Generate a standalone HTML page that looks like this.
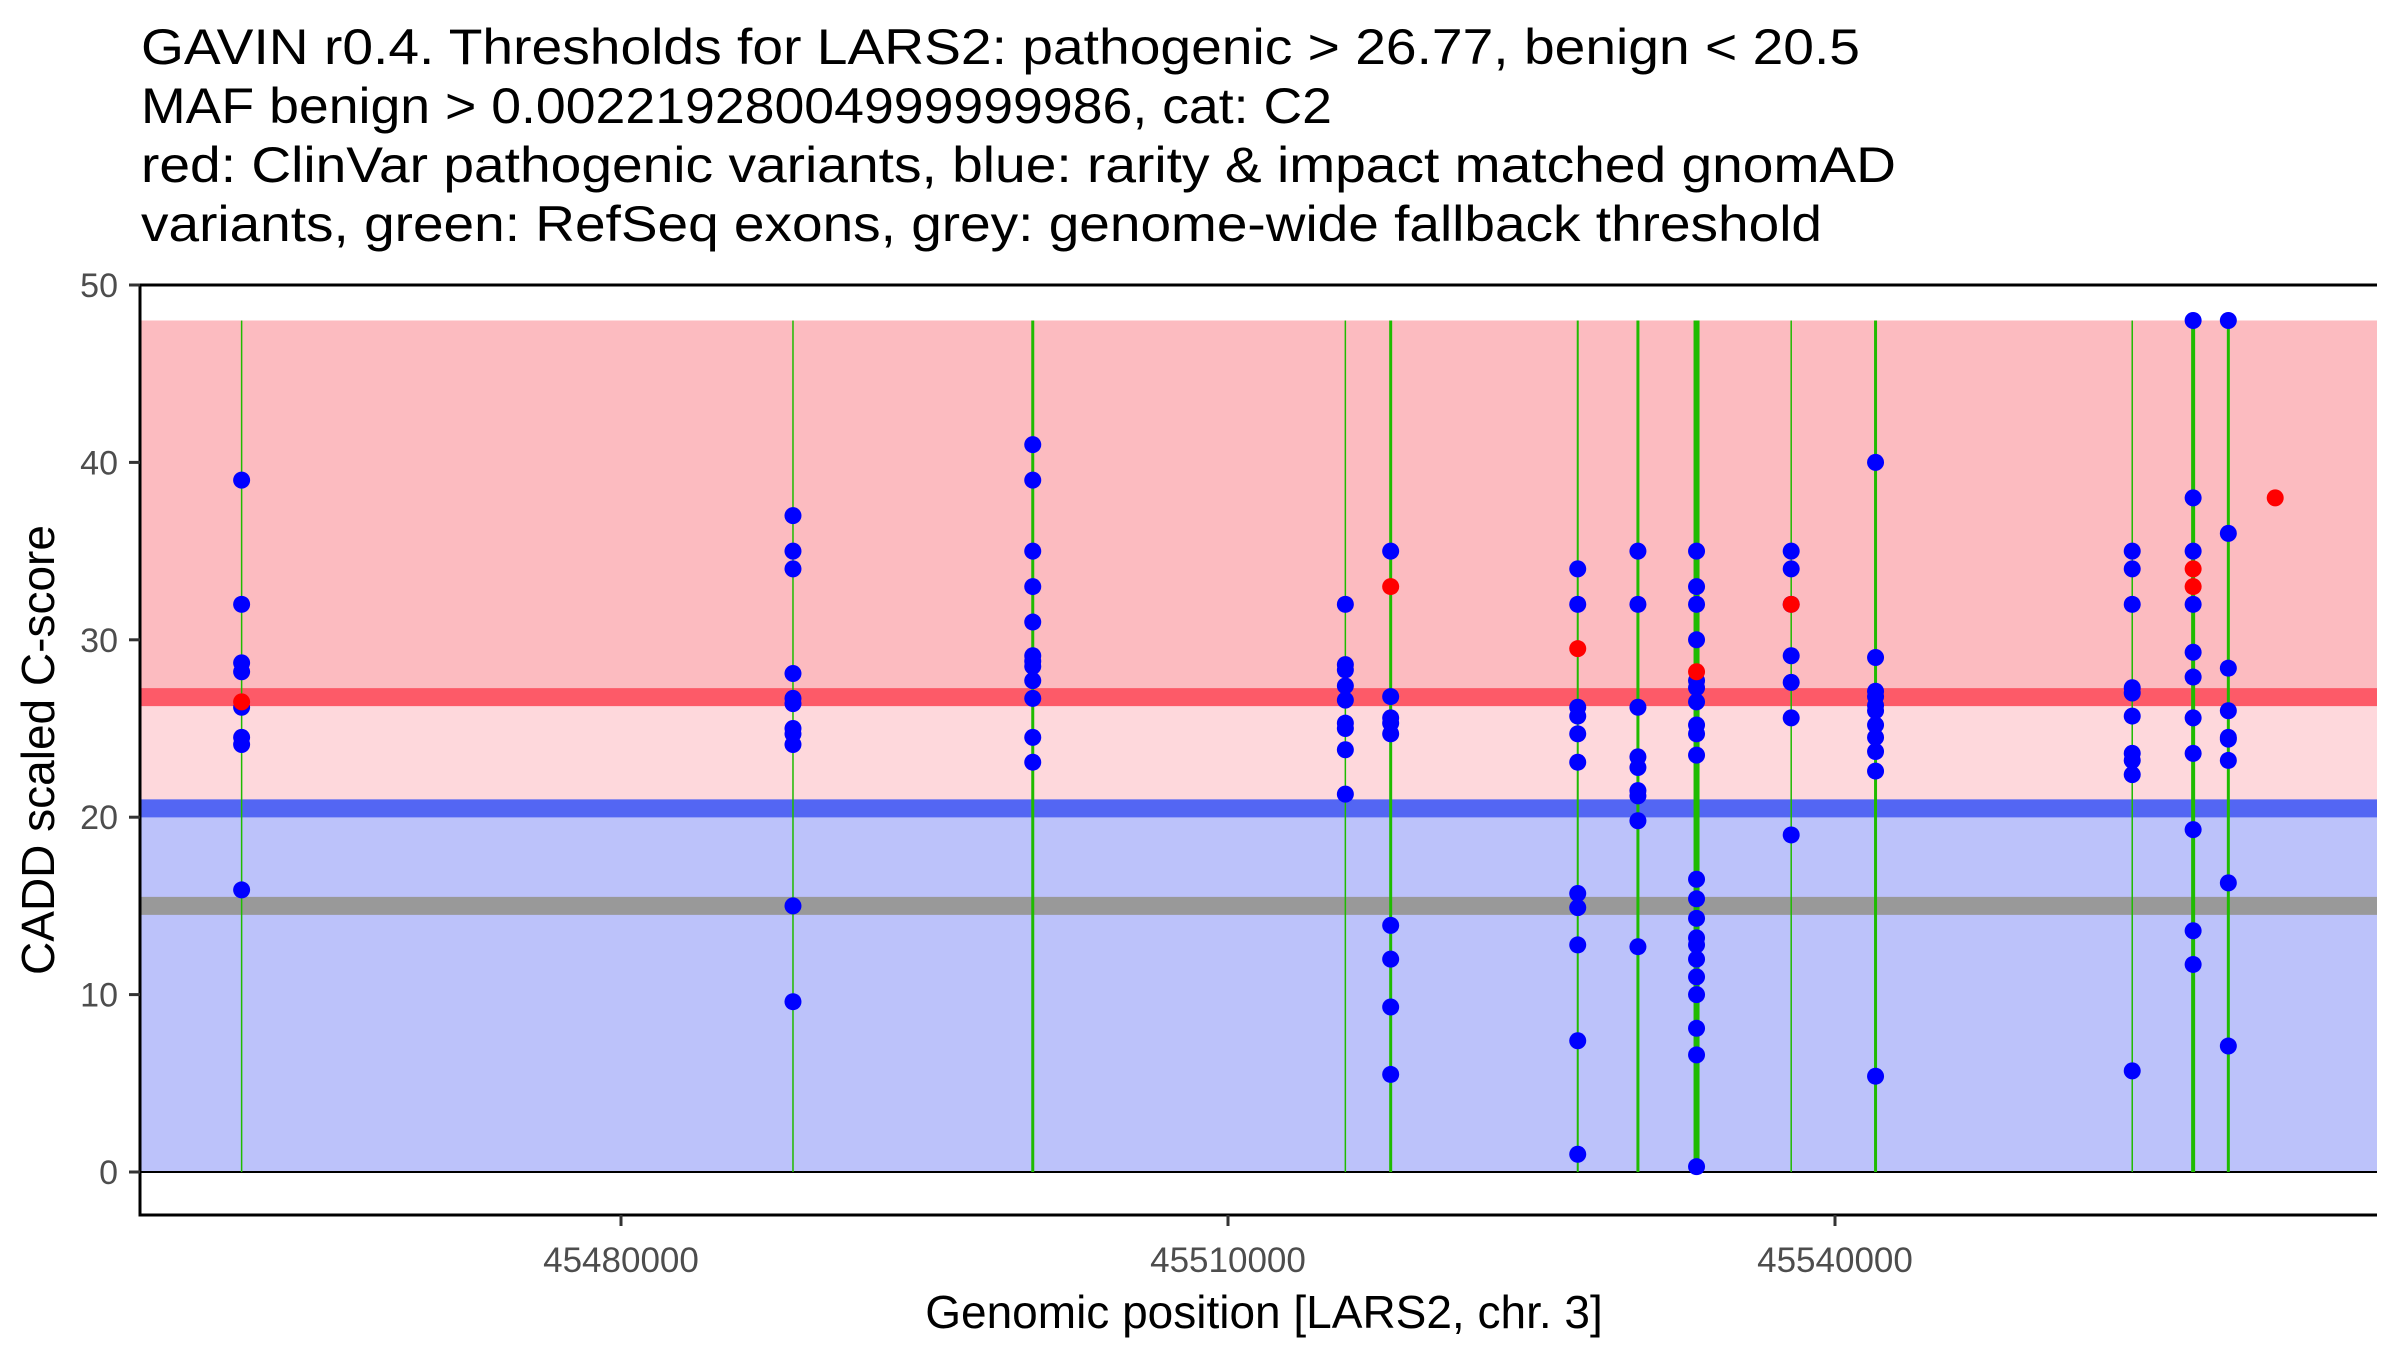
<!DOCTYPE html>
<html><head><meta charset="utf-8"><style>
html,body{margin:0;padding:0;background:#fff;}
svg{display:block;font-family:"Liberation Sans",Arial,sans-serif;}
</style></head><body>
<svg id="chart" width="2400" height="1350" viewBox="0 0 2400 1350" xmlns="http://www.w3.org/2000/svg">
<g font-size="50" fill="#000">
<text x="141" y="64" textLength="1719" lengthAdjust="spacingAndGlyphs">GAVIN r0.4. Thresholds for LARS2: pathogenic &gt; 26.77, benign &lt; 20.5</text>
<text x="141" y="123" textLength="1191" lengthAdjust="spacingAndGlyphs">MAF benign &gt; 0.00221928004999999986, cat: C2</text>
<text x="141" y="182" textLength="1755" lengthAdjust="spacingAndGlyphs">red: ClinVar pathogenic variants, blue: rarity &amp; impact matched gnomAD</text>
<text x="141" y="241" textLength="1681" lengthAdjust="spacingAndGlyphs">variants, green: RefSeq exons, grey: genome-wide fallback threshold</text>
</g>
<g id="plot"></g>
<text x="1264" y="1328" text-anchor="middle" font-size="46" fill="#000">Genomic position [LARS2, chr. 3]</text>
<text transform="translate(54,750) rotate(-90)" text-anchor="middle" font-size="46" fill="#000">CADD scaled C-score</text>
</svg>
<script>
const pathoThr = 26.77;
const benignThr = 20.5;
const fallbackThr = 15;
const yMaxData = 48;
const xTicks = [45480000, 45510000, 45540000];
const yTicks = [0, 10, 20, 30, 40, 50];
const exonPos = [45461250, 45488500, 45500350, 45515800, 45518040, 45527285, 45530260, 45533157, 45537835, 45542004, 45554690, 45557700, 45559440];
const exonWidth = [1.5, 1.5, 3, 1.5, 3, 2, 3, 6, 1.5, 3, 1.5, 4, 3];
const blueX = [
45461250,45461250,45461250,45461250,45461250,45461250,45461250,45461250,
45488500,45488500,45488500,45488500,45488500,45488500,45488500,45488500,45488500,45488500,45488500,
45500350,45500350,45500350,45500350,45500350,45500350,45500350,45500350,45500350,45500350,45500350,45500350,
45515800,45515800,45515800,45515800,45515800,45515800,45515800,45515800,45515800,
45518040,45518040,45518040,45518040,45518040,45518040,45518040,45518040,45518040,
45527285,45527285,45527285,45527285,45527285,45527285,45527285,45527285,45527285,45527285,45527285,
45530260,45530260,45530260,45530260,45530260,45530260,45530260,45530260,45530260,
45533157,45533157,45533157,45533157,45533157,45533157,45533157,45533157,45533157,45533157,45533157,45533157,45533157,45533157,45533157,45533157,45533157,45533157,45533157,45533157,45533157,
45537835,45537835,45537835,45537835,45537835,45537835,45537835,
45542004,45542004,45542004,45542004,45542004,45542004,45542004,45542004,45542004,45542004,45542004,
45554690,45554690,45554690,45554690,45554690,45554690,45554690,45554690,45554690,45554690,
45557700,45557700,45557700,45557700,45557700,45557700,45557700,45557700,45557700,45557700,45557700,
45559440,45559440,45559440,45559440,45559440,45559440,45559440,45559440,45559440
];
const blueY = [
39.0,32.0,28.7,28.2,26.2,24.5,24.1,15.9,
37.0,35.0,34.0,28.1,26.7,26.4,25.0,24.7,24.1,15.0,9.6,
41.0,39.0,35.0,33.0,31.0,29.1,28.8,28.5,27.7,26.7,24.5,23.1,
32.0,28.6,28.3,27.4,26.6,25.3,25.0,23.8,21.3,
35.0,26.8,25.6,25.3,24.7,13.9,12.0,9.3,5.5,
34.0,32.0,26.2,25.7,24.7,23.1,15.7,14.9,12.8,7.4,1.0,
35.0,32.0,26.2,23.4,22.8,21.5,21.2,19.8,12.7,
35.0,33.0,32.0,30.0,27.7,27.3,26.5,25.2,24.7,23.5,16.5,15.4,14.3,13.2,12.8,12.0,11.0,10.0,8.1,6.6,0.3,
35.0,34.0,32.0,29.1,27.6,25.6,19.0,
40.0,29.0,27.1,26.8,26.3,26.0,25.2,24.5,23.7,22.6,5.4,
35.0,34.0,32.0,27.3,27.0,25.7,23.6,23.2,22.4,5.7,
48.0,38.0,35.0,32.0,29.3,27.9,25.6,23.6,19.3,13.6,11.7,
48.0,36.0,28.4,26.0,24.5,24.4,23.2,16.3,7.1
];
const redX = [45461250, 45518040, 45527285, 45533157, 45537835, 45557700, 45557700, 45561757];
const redY = [26.5, 33.0, 29.5, 28.2, 32.0, 34.0, 33.0, 38.0];

const NS = 'http://www.w3.org/2000/svg';
const L = 140, R = 2377, T = 285, B = 1215;
const xs = v => 621 + (v - 45480000) * 607 / 30000;
const ys = v => 1172 - v * 17.74;
const plot = document.getElementById('plot');
function mk(tag, attrs) {
  const e = document.createElementNS(NS, tag);
  for (const k in attrs) e.setAttribute(k, attrs[k]);
  plot.appendChild(e);
  return e;
}
let e;
e = mk('rect', {x: L, y: ys(yMaxData), width: R - L, height: ys(pathoThr) - ys(yMaxData), fill: '#fcbbc0'});


e = mk('rect', {x: L, y: ys(pathoThr), width: R - L, height: ys(benignThr) - ys(pathoThr), fill: '#fed8dc'});


e = mk('rect', {x: L, y: ys(benignThr), width: R - L, height: ys(0) - ys(benignThr), fill: '#bcc2fa'});


e = mk('line', {x1: L, x2: R, y1: ys(pathoThr), y2: ys(pathoThr), stroke: '#fd5a68', 'stroke-width': 18});


e = mk('line', {x1: L, x2: R, y1: ys(benignThr), y2: ys(benignThr), stroke: '#5366f3', 'stroke-width': 18});


e = mk('line', {x1: L, x2: R, y1: ys(fallbackThr), y2: ys(fallbackThr), stroke: '#999999', 'stroke-width': 18});


e = mk('line', {x1: L, x2: R, y1: ys(0), y2: ys(0), stroke: '#000', 'stroke-width': 2});


exonPos.forEach((p, i) => {
  const ln = mk('line', {x1: xs(p), x2: xs(p), y1: ys(yMaxData), y2: ys(0), stroke: '#1fbb00', 'stroke-width': exonWidth[i]});
  
  
});
blueX.forEach((p, i) => {
  const c = mk('circle', {cx: xs(p), cy: ys(blueY[i]), r: 8.5, fill: '#0000ff'});
  
  
});
redX.forEach((p, i) => {
  const c = mk('circle', {cx: xs(p), cy: ys(redY[i]), r: 8.5, fill: '#ff0000'});
  
  
});
e = mk('line', {x1: L, x2: R, y1: T, y2: T, stroke: '#000', 'stroke-width': 3});


e = mk('line', {x1: L, x2: L, y1: T - 1.5, y2: B + 1.5, stroke: '#000', 'stroke-width': 3});


e = mk('line', {x1: L, x2: R, y1: B, y2: B, stroke: '#000', 'stroke-width': 3});


yTicks.forEach(t => {
  const tk = mk('line', {x1: L - 11, x2: L, y1: ys(t), y2: ys(t), stroke: '#333', 'stroke-width': 3});
  
  
  const lb = mk('text', {x: L - 22, y: ys(t) + 12, 'text-anchor': 'end', 'font-size': 34, fill: '#4d4d4d'});
  lb.textContent = t;
  
  
});
xTicks.forEach(t => {
  const tk = mk('line', {x1: xs(t), x2: xs(t), y1: B, y2: B + 11, stroke: '#333', 'stroke-width': 3});
  
  
  const lb = mk('text', {x: xs(t), y: B + 57, 'text-anchor': 'middle', 'font-size': 35, fill: '#4d4d4d'});
  lb.textContent = t;
  
  
});
</script>
</body></html>
